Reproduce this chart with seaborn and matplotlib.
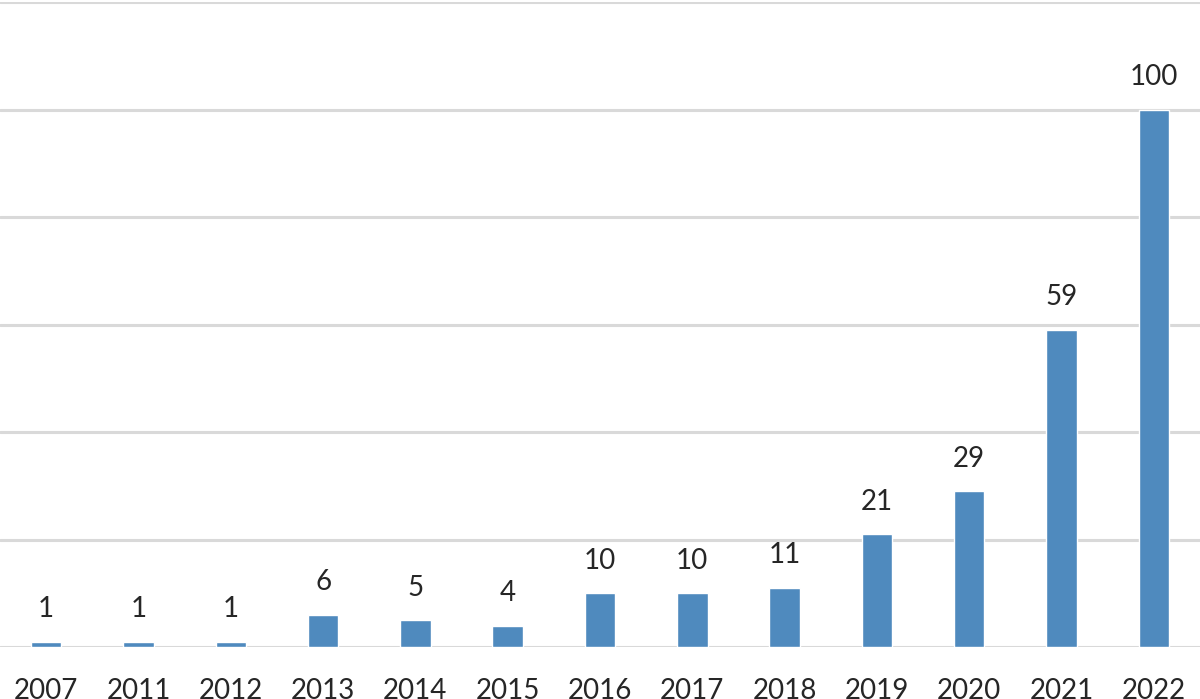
import matplotlib
matplotlib.use("Agg")
import matplotlib.pyplot as plt
import pandas as pd
import seaborn as sns

# publications per year
years = ["2007", "2011", "2012", "2013", "2014", "2015", "2016",
         "2017", "2018", "2019", "2020", "2021", "2022"]
counts = [1, 1, 1, 6, 5, 4, 10, 10, 11, 21, 29, 59, 100]
grid_ticks = [0, 20, 40, 60, 80, 100, 120]

df = pd.DataFrame({"year": years, "count": counts})

sns.set_style("white")
plt.rcParams['font.family'] = ['Lato', 'DejaVu Sans']

fig = plt.figure(figsize=(12, 6.99), dpi=100)
ax = fig.add_axes([0, 52 / 699, 1, 645 / 699])

sns.barplot(data=df, x="year", y="count", color="#4F8ABE",
            width=0.33, saturation=1, ax=ax)

ax.set_ylim(0, 120)
ax.set_xlim(-0.5, len(years) - 0.5)
ax.set_yticks(grid_ticks)
ax.set_yticklabels([])
ax.yaxis.grid(True, color="#d9d9d9", linewidth=2.2)
ax.set_axisbelow(True)
for s in ax.spines.values():
    s.set_visible(False)
ax.tick_params(axis="y", length=0)
ax.tick_params(axis="x", length=0, pad=22, labelsize=20)
ax.set_xlabel("")
ax.set_ylabel("")

ax.bar_label(ax.containers[0], labels=[str(c) for c in counts],
             padding=14, fontsize=20)

plt.savefig("out.png", dpi=100)
